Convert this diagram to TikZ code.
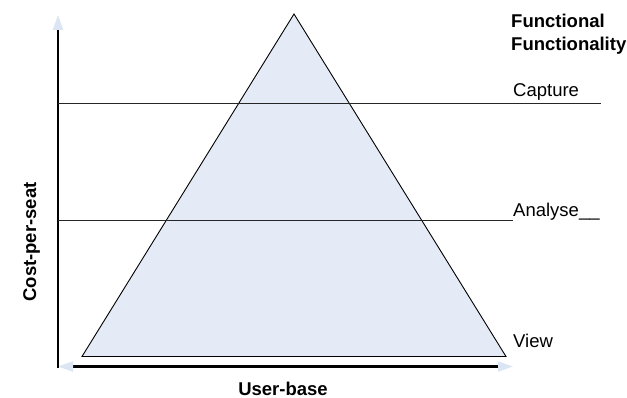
\documentclass[tikz,border=0pt]{standalone}
\usepackage{fontspec}
\setmainfont{Liberation Sans}
\usetikzlibrary{arrows.meta}
\definecolor{pyrfill}{HTML}{E4EBF6}
\definecolor{tipblue}{HTML}{DCE5F4}
\tikzset{
  lbl/.style={inner sep=0pt, font=\fontsize{18.5}{22}\selectfont},
  blbl/.style={inner sep=0pt, font=\fontsize{18.5}{22}\selectfont\bfseries},
  axis/.style={line width=2.2pt, black},
  level/.style={line width=1pt, black!85},
  ptip/.tip={Triangle[length=15pt, width=10pt, color=tipblue, fill=tipblue]}
}
\begin{document}
\begin{tikzpicture}[x=1pt, y=-1pt]
\useasboundingbox (0,0) rectangle (627,398);
% pyramid
\coordinate (apex) at (294,14);
\coordinate (bl) at (82,356.5);
\coordinate (br) at (506,356.5);
\draw[fill=pyrfill, line width=0.9pt, line join=miter] (apex) -- (bl) -- (br) -- cycle;
% axes
\coordinate (origin) at (58,366.5);
\coordinate (xend) at (513,366.5);
\coordinate (yend) at (58,15);
\coordinate (ybot) at (58,368);
\draw[axis, ptip-ptip] (origin) -- (xend);
\draw[axis, -ptip] (ybot) -- (yend);
% labels
\node[blbl, anchor=base west] (f1) at (511,28) {Functional};
\node[blbl, anchor=base west] (f2) at (511,50.5) {Functionality};
\node[lbl, anchor=base west] (cap) at (513,97) {Capture};
\node[lbl, anchor=base west] (ana) at (513,217) {Analyse\_\_};
\node[lbl, anchor=base west] (view) at (513,347) {View};
\node[blbl, anchor=base] (ub) at (283,395) {User-base};
\node[blbl, anchor=base, rotate=90] (cps) at (36,242) {Cost-per-seat};
% level lines
\coordinate (capL) at (58,104);
\coordinate (capR) at (601,104);
\coordinate (anaL) at (58,220.5);
\draw[level] (capL) -- (capR);
\draw[level] (anaL) -- (ana.west |- anaL);
\end{tikzpicture}
\end{document}
